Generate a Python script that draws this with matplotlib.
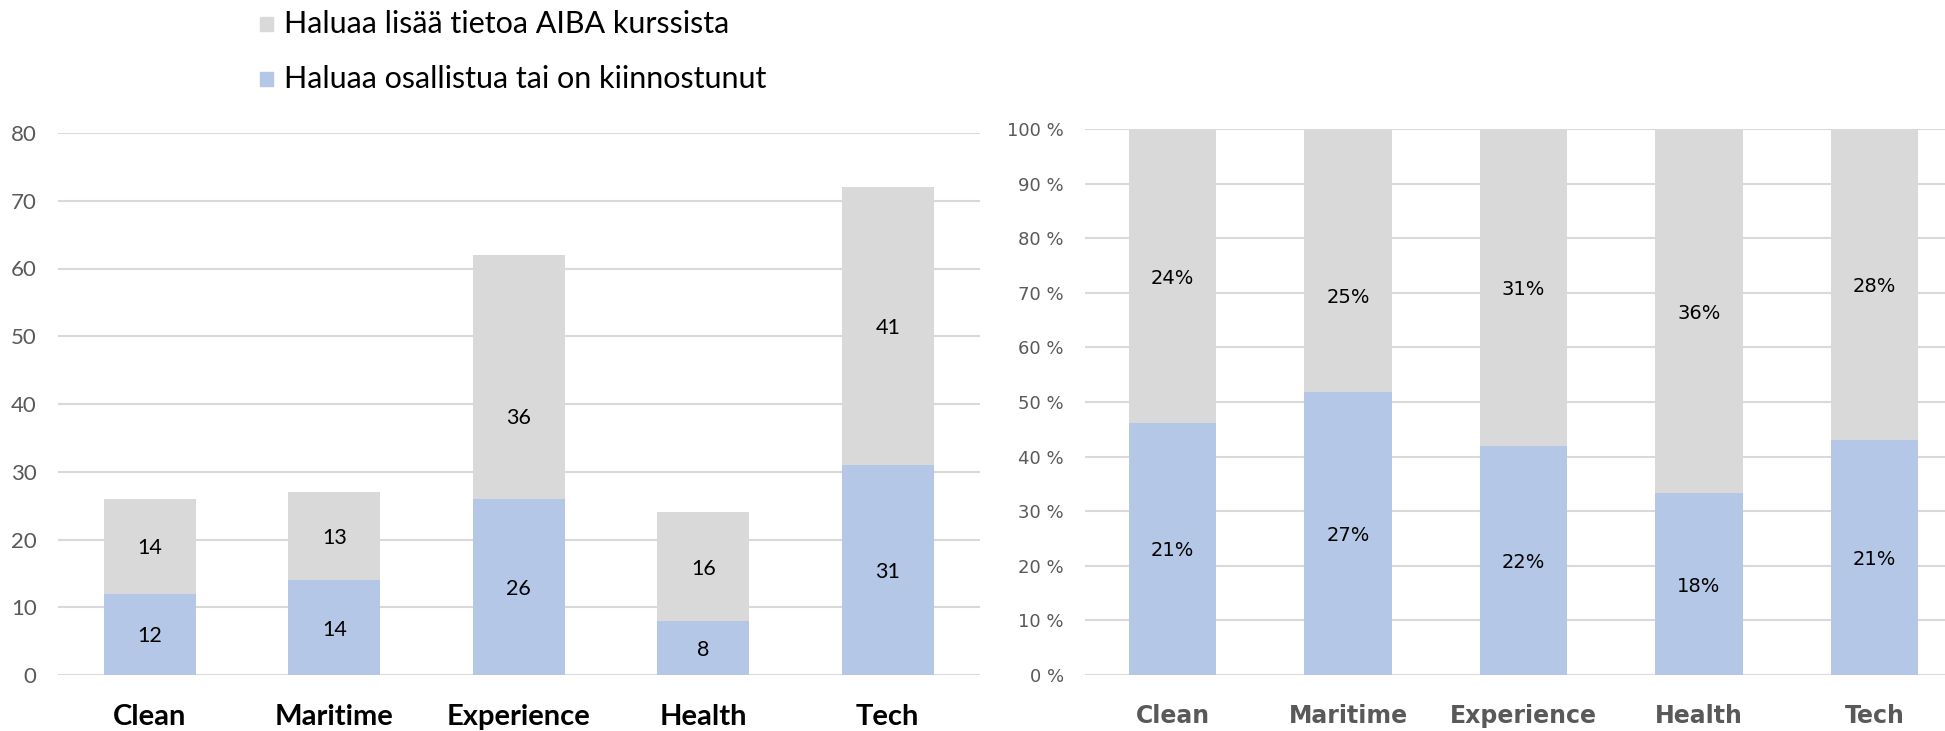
import matplotlib
matplotlib.use("Agg")
import matplotlib.pyplot as plt
from matplotlib.patches import Rectangle
import numpy as np

categories = ["Clean", "Maritime", "Experience", "Health", "Tech"]
participate = [12, 14, 26, 8, 31]
more_info = [14, 13, 36, 16, 41]
share_participate = ["21%", "27%", "22%", "18%", "21%"]
share_more_info = ["24%", "25%", "31%", "36%", "28%"]
legend_labels = ["Haluaa lisää tietoa AIBA kurssista", "Haluaa osallistua tai on kiinnostunut"]

BLUE = "#B4C7E7"
GRAY = "#D9D9D9"
TICK = "#595959"

# a few labels were moved by hand in the original (offsets in data units)
nudge_left = {"Experience": -5.7}
nudge_right = {"Maritime": -6.4}

W, H = 1945, 731
fig = plt.figure(figsize=(W / 100, H / 100), dpi=100)
plt.rcParams["font.family"] = "DejaVu Sans"

def fx(px):
    return px / W

def fy(py):
    return 1 - py / H

x = np.arange(len(categories))
blue = np.array(participate, dtype=float)
gray = np.array(more_info, dtype=float)

# left: counts
ax1 = fig.add_axes([fx(57.5), fy(675), fx(922.5), (675 - 133) / H])
ax1.bar(x, blue, width=0.5, color=BLUE, zorder=2)
ax1.bar(x, gray, bottom=blue, width=0.5, color=GRAY, zorder=2)
for i, c in enumerate(categories):
    ax1.text(x[i], blue[i] / 2, str(participate[i]), ha="center", va="center_baseline",
             fontsize=15.5, family="Lato", color="black", zorder=3)
    ax1.text(x[i], blue[i] + gray[i] / 2 + nudge_left.get(c, 0), str(more_info[i]), ha="center",
             va="center_baseline", fontsize=15.5, family="Lato", color="black", zorder=3)
ax1.set_xlim(-0.5, len(x) - 0.5)
ax1.set_ylim(0, 80)
ax1.set_yticks(range(0, 81, 10))
ax1.set_xticks(x)
ax1.set_xticklabels(categories, fontsize=21, fontweight="bold", family="Lato", color="black")
for t in ax1.get_yticklabels():
    t.set_family("Lato")
    t.set_fontsize(16)

# right: 100 % stacked
total = blue + gray
bp = blue / total * 100
gp = gray / total * 100
ax2 = fig.add_axes([fx(1084.75), fy(675), fx(877.5), (675 - 129) / H])
ax2.bar(x, bp, width=0.5, color=BLUE, zorder=2)
ax2.bar(x, gp, bottom=bp, width=0.5, color=GRAY, zorder=2)
for i, c in enumerate(categories):
    ax2.text(x[i], bp[i] / 2, share_participate[i], ha="center", va="center_baseline",
             fontsize=14, color="black", zorder=3)
    ax2.text(x[i], bp[i] + gp[i] / 2 + nudge_right.get(c, 0), share_more_info[i], ha="center",
             va="center_baseline", fontsize=14, color="black", zorder=3)
ax2.set_xlim(-0.5, len(x) - 0.5)
ax2.set_ylim(0, 100)
ax2.set_yticks(range(0, 101, 10))
ax2.set_yticklabels([f"{v} %" for v in range(0, 101, 10)], fontsize=13)
ax2.set_xticks(x)
ax2.set_xticklabels(categories, fontsize=17, fontweight="bold", color=TICK)

for ax in (ax1, ax2):
    for s in ax.spines.values():
        s.set_visible(False)
    ax.grid(axis="y", color=GRAY, linewidth=1.5, zorder=0)
    ax.tick_params(axis="both", length=0)
    ax.tick_params(axis="y", labelcolor=TICK, pad=15)
    ax.tick_params(axis="x", pad=21)

# legend
for lab, col, yc in zip(legend_labels, [GRAY, BLUE], [24, 79]):
    fig.add_artist(Rectangle((fx(260), fy(yc + 7)), fx(13), 14 / H, transform=fig.transFigure, color=col))
    fig.text(fx(284), fy(yc), lab, fontsize=22, family="Lato", va="center", ha="left", color="black")

fig.savefig("out.png", dpi=100)
